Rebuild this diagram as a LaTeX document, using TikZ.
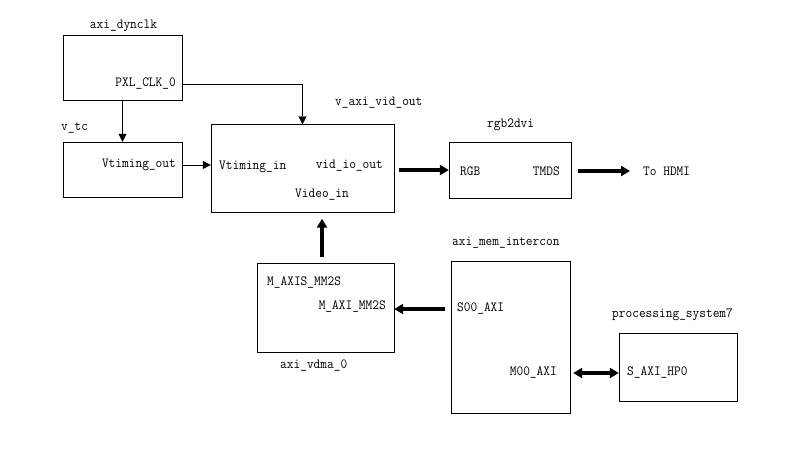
\documentclass[tikz,border=0pt]{standalone}
\usepackage{fontspec}
\setmonofont[FakeStretch=0.93]{Latin Modern Mono}
\usepackage{tikz}
\usetikzlibrary{arrows.meta}

\begin{document}
\begin{tikzpicture}[
   x=1pt,y=-1pt,
   font=\ttfamily\fontsize{14}{15}\selectfont,
   block/.style={draw,thin,inner sep=0pt},
   port/.style={inner sep=0pt},
   title/.style={inner sep=0pt},
   to/.style={-{Triangle[length=8pt,width=8pt]},thin},
   bus/.style={-{Triangle[length=9pt,width=10pt]},line width=3.4pt},
   both/.style={{Triangle[length=9pt,width=10pt]}-{Triangle[length=9pt,width=10pt]},line width=3.4pt}]
\useasboundingbox (0,0) rectangle (806,459);
% blocks
\node[block,minimum width=119pt,minimum height=65pt] (dynclk) at (122.5,67.5) {};
\node[block,minimum width=119pt,minimum height=55pt] (vtc) at (122.5,169.5) {};
\node[block,minimum width=183pt,minimum height=88pt] (vid) at (302.5,168.5) {};
\node[block,minimum width=122pt,minimum height=56pt] (rgb) at (510,170) {};
\node[block,minimum width=137pt,minimum height=89pt] (vdma) at (325.5,307.5) {};
\node[block,minimum width=119pt,minimum height=152pt] (intercon) at (510.5,337) {};
\node[block,minimum width=118pt,minimum height=68pt] (ps7) at (678,367) {};
% titles
\node[title] (dynclkname) at (123.5,26) {axi\_dynclk};
\node[title,anchor=west] (vtcname) at (61,128) {v\_tc};
\node[title,anchor=west] (vidname) at (335,103) {v\_axi\_vid\_out};
\node[title,anchor=west] (rgbname) at (487,125) {rgb2dvi};
\node[title,anchor=west] (vdmaname) at (280,366) {axi\_vdma\_0};
\node[title,anchor=west] (interconname) at (452,243) {axi\_mem\_intercon};
\node[title,anchor=west] (ps7name) at (612,315) {processing\_system7};
% ports
\node[port,anchor=east] (pxlclk) at (176,84) {PXL\_CLK\_0};
\node[port,anchor=east] (vtout) at (176,165) {Vtiming\_out};
\node[port,anchor=west] (vtin) at (219,167) {Vtiming\_in};
\node[port,anchor=east] (vidio) at (383,166) {vid\_io\_out};
\node[port] (videoin) at (322,195) {Video\_in};
\node[port,anchor=west] (rgbin) at (460,171) {RGB};
\node[port,anchor=east] (tmds) at (560,171) {TMDS};
\node[port,anchor=west] (hdmi) at (643,171) {To HDMI};
\node[port,anchor=west] (maxis) at (267,283) {M\_AXIS\_MM2S};
\node[port,anchor=east] (maxi) at (386,307) {M\_AXI\_MM2S};
\node[port,anchor=west] (s00) at (457,309) {S00\_AXI};
\node[port,anchor=east] (m00) at (557,373) {M00\_AXI};
\node[port,anchor=west] (hp0) at (627,373) {S\_AXI\_HP0};
% connectors
\draw[to] (dynclk.east |- pxlclk) -| (vid.north);
\draw[to] (dynclk.south) -- (vtc.north);
\draw[to] (vtc.east |- vtout) -- (vid.west |- vtout);
\draw[bus,shorten <=5pt] (vid.east |- rgb) -- (rgb.west);
\draw[bus,shorten <=7pt,shorten >=13pt] (rgb.east |- hdmi.west) -- (hdmi.west);
\draw[bus,shorten <=6pt,shorten >=6pt] (vdma.north -| videoin) -- (vid.south -| videoin);
\draw[bus,shorten <=6pt] (intercon.west |- s00) -- (vdma.east |- s00);
\draw[both,shorten <=3pt] (intercon.east |- hp0) -- (ps7.west |- hp0);
\end{tikzpicture}
\end{document}
